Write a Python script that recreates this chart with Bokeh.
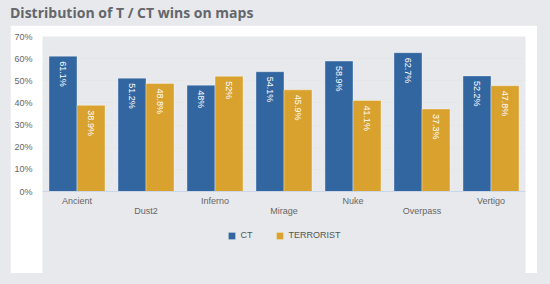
from math import pi
from bokeh.plotting import figure
from bokeh.models import (ColumnDataSource, FactorRange, Range1d, FixedTicker,
                          PrintfTickFormatter, Legend, LegendItem, Div, Span)
from bokeh.layouts import column
from bokeh.transform import dodge
from bokeh.core.properties import value
from bokeh.embed import file_html
from bokeh.resources import INLINE

maps = ["Ancient", "Dust2", "Inferno", "Mirage", "Nuke", "Overpass", "Vertigo"]
ct = [61.1, 51.2, 48, 54.1, 58.9, 62.7, 52.2]
terrorist = [38.9, 48.8, 52, 45.9, 41.1, 37.3, 47.8]
y_ticks = [0, 10, 20, 30, 40, 50, 60, 70]

CT_COLOR = "#3266a0"
T_COLOR = "#d9a22f"
FONT = "Liberation Sans"

src = ColumnDataSource(dict(
    map=maps, ct=ct, t=terrorist,
    ct_lbl=[f"{v:g}%" for v in ct],
    t_lbl=[f"{v:g}%" for v in terrorist],
))

# frame: top at 11px, 0% at 166px, bottom at 248px of the white panel
Y_MIN = -37.03
p = figure(x_range=FactorRange(factors=maps), y_range=Range1d(Y_MIN, 70),
           width=527, height=248, output_backend="svg", toolbar_location=None,
           x_axis_location=None,
           min_border_left=32, min_border_right=12, min_border_top=11,
           min_border_bottom=0, outline_line_color=None,
           background_fill_alpha=0, border_fill_color="white",
           margin=(0, 13, 11, 10))

off = 0.203
w = 0.406
r_ct = p.vbar(x=dodge("map", -off, range=p.x_range), top="ct", width=w, source=src,
              fill_color=CT_COLOR, line_color="white", line_alpha=0.35)
r_t = p.vbar(x=dodge("map", off, range=p.x_range), top="t", width=w, source=src,
             fill_color=T_COLOR, line_color="white", line_alpha=0.35)

for col, lbl, dx in (("ct", "ct_lbl", -off), ("t", "t_lbl", off)):
    p.text(x=dodge("map", dx, range=p.x_range), y=col, text=lbl, source=src,
           angle=-pi / 2, text_align="left", text_baseline="middle", y_offset=5,
           text_color="white", text_font_size="9px",
           text_font=value("Liberation Sans"))

# y axis
p.yaxis.ticker = FixedTicker(ticks=y_ticks)
p.yaxis.formatter = PrintfTickFormatter(format="%d%%")
p.yaxis.major_label_text_font_size = "9px"
p.yaxis.major_label_text_color = "#666666"
p.yaxis.major_label_text_font = FONT
p.yaxis.major_tick_line_color = None
p.yaxis.minor_tick_line_color = None
p.yaxis.axis_line_color = None
p.yaxis.major_label_standoff = 4
p.ygrid.grid_line_color = "#e6e6e6"
p.ygrid.ticker = FixedTicker(ticks=y_ticks)
p.xgrid.grid_line_color = None

# x axis baseline and staggered category labels
p.add_layout(Span(location=0, dimension="width", line_color="#ccd6eb", line_width=1))
for start, dy in ((0, 9), (1, 19)):
    sub = maps[start::2]
    p.text(x=sub, y=[0] * len(sub), text=sub, y_offset=dy,
           text_align="center", text_baseline="middle",
           text_color="#666666", text_font_size="9px", text_font=value(FONT))

legend = Legend(items=[LegendItem(label="CT", renderers=[r_ct]),
                       LegendItem(label="TERRORIST", renderers=[r_t])],
                orientation="horizontal", location="bottom_center",
                border_line_color=None, background_fill_alpha=0,
                label_text_font_size="9px", label_text_color="#555555",
                label_text_font=FONT, glyph_width=9, glyph_height=9,
                label_height=10, label_standoff=5, spacing=14, padding=4, margin=33)
p.add_layout(legend)

title = Div(text="Distribution of T / CT wins on maps", width=540, height=25,
            margin=(0, 0, 0, 10),
            styles={"font-family": "Open Sans", "font-size": "14px",
                    "font-weight": "bold", "color": "#63666b",
                    "line-height": "25px", "white-space": "nowrap"})

layout = column(title, p, width=550, height=284,
                styles={"background-color": "#e8e9ec"})

open("out.html", "w").write(file_html(layout, INLINE))
